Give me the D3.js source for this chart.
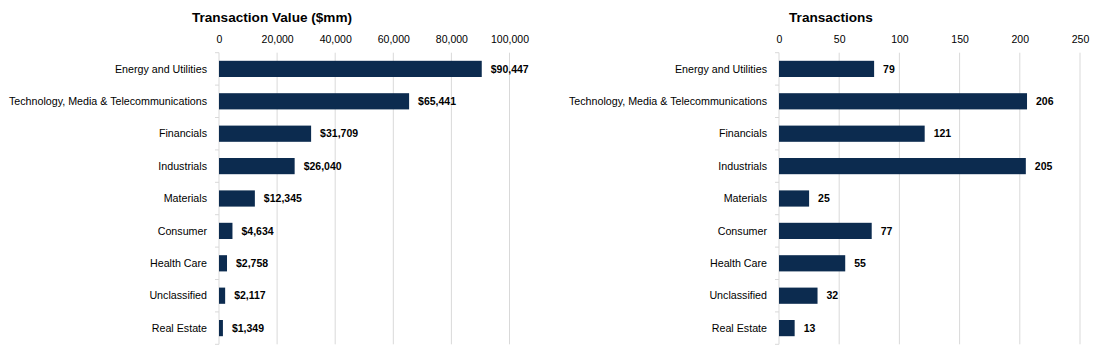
<!DOCTYPE html>
<html><head><meta charset="utf-8">
<script src="https://cdn.jsdelivr.net/npm/d3@7"></script>
<style>body{margin:0;background:#fff;font-family:Arial,"Liberation Sans",sans-serif;}</style>
</head><body>
<svg id="c" width="1112" height="357"></svg>
<script>
const categories = ["Energy and Utilities","Technology, Media & Telecommunications","Financials","Industrials","Materials","Consumer","Health Care","Unclassified","Real Estate"];
const valueData = [90447,65441,31709,26040,12345,4634,2758,2117,1349];
const countData = [79,206,121,205,25,77,55,32,13];
const valueTicks = [0,20000,40000,60000,80000,100000];
const countTicks = [0,50,100,150,200,250];

const svg = d3.select("#c");
const color = "#0c2b4f";
const grid = "#d9d9d9";

function panel(opt){
  const g = svg.append("g");
  const x = d3.scaleLinear().domain([0, opt.max]).range([opt.x0, opt.x1]);
  const y = d3.scaleBand().domain(categories).range([52.7, 344.3]).paddingInner(0.5).paddingOuter(0.25);
  const yb = d3.scaleBand().domain(categories).range([52.7, 344.3]);
  g.selectAll(".gl").data(opt.ticks.slice(1)).join("line")
    .attr("x1", d=>x(d)).attr("x2", d=>x(d)).attr("y1", 52.7).attr("y2", 344.3)
    .attr("stroke", grid).attr("stroke-width", 1);
  g.append("line").attr("x1", x(0)).attr("x2", x(0)).attr("y1", 52.7).attr("y2", 344.3).attr("stroke", grid);
  const bounds = categories.map(c=>yb(c)).concat([344.3]);
  g.selectAll(".bt").data(bounds).join("line")
    .attr("x1", x(0)-4).attr("x2", x(0)).attr("y1", d=>d).attr("y2", d=>d).attr("stroke", grid);
  const axis = d3.axisTop(x).tickValues(opt.ticks).tickSize(0).tickPadding(0).tickFormat(opt.tickFmt);
  const ag = g.append("g").attr("transform", `translate(0,43)`).call(axis);
  ag.select(".domain").remove();
  ag.selectAll("text").attr("font-size", 10.5).attr("fill", "#000").attr("font-family","Arial, 'Liberation Sans', sans-serif");
  g.selectAll(".cl").data(categories).join("text")
    .attr("x", x(0)-12).attr("y", d=>yb(d)+yb.bandwidth()/2).attr("dy","0.35em")
    .attr("text-anchor","end").attr("font-size", 10.7).text(d=>d);
  g.selectAll(".bar").data(opt.values).join("rect")
    .attr("x", x(0)).attr("y", (d,i)=>y(categories[i]))
    .attr("width", d=>x(d)-x(0)).attr("height", y.bandwidth()).attr("fill", color);
  g.selectAll(".vl").data(opt.values).join("text")
    .attr("x", d=>x(d)+9).attr("y", (d,i)=>yb(categories[i])+yb.bandwidth()/2).attr("dy","0.35em")
    .attr("font-size", 10.5).attr("font-weight","bold").text(opt.labelFmt);
  g.append("text").attr("x", opt.titleX).attr("y", 22).attr("text-anchor","middle")
    .attr("font-size", 13.6).attr("font-weight","bold").text(opt.title);
}

panel({x0:219, x1:509.5, max:100000, ticks:valueTicks, values:valueData,
  tickFmt:d3.format(","), labelFmt:d=>"$"+d3.format(",")(d), title:"Transaction Value ($mm)", titleX:272});
panel({x0:779, x1:1080, max:250, ticks:countTicks, values:countData,
  tickFmt:d3.format("d"), labelFmt:d=>d, title:"Transactions", titleX:831});
</script>
</body></html>
